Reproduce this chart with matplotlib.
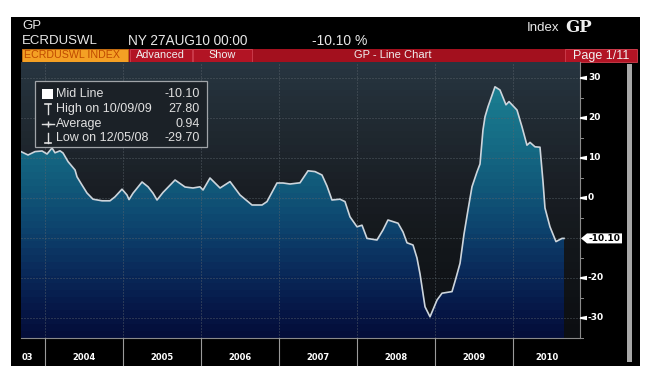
import numpy as np
import matplotlib
matplotlib.use("Agg")
import matplotlib.pyplot as plt
from matplotlib.colors import LinearSegmentedColormap
from matplotlib.patches import Rectangle, Polygon

# ---------------- data (decimal year, % growth) ----------------
dates = [2003.692, 2003.782, 2003.872, 2003.962, 2004.026, 2004.090, 2004.128, 2004.192,
         2004.231, 2004.295, 2004.385, 2004.410, 2004.474, 2004.538, 2004.615, 2004.731,
         2004.833, 2004.897, 2004.987, 2005.051, 2005.077, 2005.128, 2005.244, 2005.321,
         2005.385, 2005.436, 2005.513, 2005.667, 2005.795, 2005.897, 2005.987, 2006.026,
         2006.115, 2006.244, 2006.372, 2006.500, 2006.654, 2006.782, 2006.846, 2006.974,
         2007.051, 2007.141, 2007.269, 2007.372, 2007.462, 2007.551, 2007.615, 2007.679,
         2007.782, 2007.846, 2007.910, 2008.000, 2008.064, 2008.128, 2008.256, 2008.333,
         2008.397, 2008.526, 2008.590, 2008.641, 2008.718, 2008.769, 2008.808, 2008.872,
         2008.936, 2009.026, 2009.090, 2009.218, 2009.269, 2009.321, 2009.372, 2009.423,
         2009.474, 2009.538, 2009.577, 2009.615, 2009.641, 2009.679, 2009.769, 2009.833,
         2009.910, 2009.949, 2010.051, 2010.115, 2010.179, 2010.218, 2010.282, 2010.346,
         2010.385, 2010.410, 2010.474, 2010.551, 2010.628, 2010.654]
values = [11.6, 10.75, 11.6, 11.75, 11.0, 12.5, 11.3, 11.8,
          11.25, 9.1, 7.0, 5.3, 3.25, 1.25, -0.3, -0.7,
          -0.7, 0.3, 2.2, 0.75, -0.4, 1.2, 4.0, 2.8,
          1.2, -0.5, 1.4, 4.5, 2.75, 2.5, 2.8, 2.0,
          5.0, 2.5, 4.1, 0.75, -1.75, -1.75, -0.9, 3.75,
          3.75, 3.5, 3.8, 6.8, 6.6, 5.75, 3.0, -0.5,
          -0.3, -0.9, -4.7, -7.2, -6.8, -10.1, -10.5, -8.0,
          -5.5, -6.3, -8.5, -11.2, -11.75, -15.0, -19.0, -27.2,
          -29.7, -25.5, -23.8, -23.4, -20.0, -16.3, -9.0, -3.0,
          2.8, 6.5, 8.5, 17.0, 20.3, 22.8, 27.8, 27.0,
          23.3, 24.1, 22.0, 17.8, 13.2, 13.9, 12.8, 12.7,
          4.0, -2.5, -7.2, -10.9, -10.1, -10.1]

year_ticks = [2004, 2005, 2006, 2007, 2008, 2009, 2010]
year_labels = ["03", "2004", "2005", "2006", "2007", "2008", "2009", "2010"]
y_ticks = [30, 20, 10, 0, -20, -30]
legend_labels = ["Mid Line", "High on 10/09/09", "Average", "Low on 12/05/08"]
legend_values = ["-10.10", "27.80", "0.94", "-29.70"]
last_value = -10.10

FONT = ["Liberation Sans", "DejaVu Sans"]

W, H = 654, 375
fig = plt.figure(figsize=(W / 100, H / 100), dpi=100)
fig.patch.set_facecolor("white")

# chrome axes in pixel coordinates
bg = fig.add_axes([0, 0, 1, 1])
bg.set_xlim(0, W)
bg.set_ylim(H, 0)
bg.axis("off")

bg.add_patch(Rectangle((11, 17), 629, 349, facecolor="black", edgecolor="none"))

txt = dict(color="#e8e8e8", family=FONT, va="center")
bg.text(22, 26, "GP", fontsize=9.5, **txt)
bg.text(22, 41, "ECRDUSWL", fontsize=9.5, **txt)
bg.text(128, 41, "NY 27AUG10 00:00", fontsize=9.8, **txt)
bg.text(312, 41, "-10.10 %", fontsize=10, **txt)
bg.text(527, 28, "Index", fontsize=9.5, **txt)
bg.text(565, 28, "GP", fontsize=12, fontweight="bold", family=["DejaVu Serif"],
        color="#f0f0f0", va="center")

# red toolbar
bg.add_patch(Rectangle((22, 49), 615, 13, facecolor="#a3101e", edgecolor="none"))
bg.add_patch(Rectangle((22, 49), 106, 13, facecolor="#f4a024", edgecolor="#c07010", lw=0.6))
bg.text(24, 55.5, "ECRDUSWL INDEX", fontsize=7.7, color="#c04a00", family=FONT, va="center")
bg.add_patch(Rectangle((130, 49), 62, 13, facecolor="#b21424", edgecolor="#d04050", lw=0.6))
bg.text(160, 55.5, "Advanced", fontsize=7.8, color="#f0f0f0", family=FONT, va="center", ha="center")
bg.add_patch(Rectangle((193, 49), 59, 13, facecolor="#b21424", edgecolor="#d04050", lw=0.6))
bg.text(222, 55.5, "Show", fontsize=7.8, color="#f0f0f0", family=FONT, va="center", ha="center")
bg.text(393, 55.5, "GP - Line Chart", fontsize=8, color="#f0f0f0", family=FONT, va="center", ha="center")
bg.add_patch(Rectangle((565, 49), 72, 13, facecolor="#b21424", edgecolor="#d04050", lw=0.6))
bg.text(601, 55.5, "Page 1/11", fontsize=9, color="#f0f0f0", family=FONT, va="center", ha="center")

# scrollbar
bg.add_patch(Rectangle((627, 64), 5, 298, facecolor="#a8a8a8", edgecolor="none"))

# ---------------- main plot ----------------
L, R, T, B = 21, 580, 62, 338
ax = fig.add_axes([L / W, 1 - B / H, (R - L) / W, (B - T) / H])
x0, x1 = 2003.692, 2004 + (R - 45) / 78.0
y0, y1 = -35, 34
ax.set_xlim(x0, x1)
ax.set_ylim(y0, y1)
ax.axis("off")

nb = 40
yy = np.linspace(y1, y0, nb).reshape(-1, 1)
bg_cmap = LinearSegmentedColormap.from_list(
    "bgc", [(0, "#0c0e12"), (0.35, "#14181c"), (0.55, "#1a1f25"), (0.8, "#212b33"), (1, "#273540")])
ax.imshow((yy - y0) / (y1 - y0), cmap=bg_cmap, vmin=0, vmax=1, extent=[x0, x1, y0, y1],
          aspect="auto", interpolation="nearest", zorder=0)

fill_cmap = LinearSegmentedColormap.from_list(
    "fc", [(0, "#040e3a"), (0.10, "#061848"), (0.25, "#0a2c5c"), (0.40, "#0d446e"),
           (0.55, "#11597a"), (0.70, "#156a84"), (0.85, "#19788d"), (1, "#1e8898")])
im = ax.imshow((yy - y0) / (y1 - y0), cmap=fill_cmap, vmin=0, vmax=1, extent=[x0, x1, y0, y1],
               aspect="auto", interpolation="nearest", zorder=1)
poly = Polygon(list(zip([dates[0]] + dates + [dates[-1]], [y0] + values + [y0])),
               closed=True, transform=ax.transData, facecolor="none", edgecolor="none")
ax.add_patch(poly)
im.set_clip_path(poly)

# grid
for v in range(-30, 31, 10):
    ax.axhline(v, color="#5c656c", lw=0.6, ls=(0, (1.2, 2.4)), zorder=2)
for yt in year_ticks:
    ax.axvline(yt, color="#5c656c", lw=0.6, ls=(0, (1.2, 2.4)), zorder=2)

ax.plot(dates, values, color="#cdd5dc", lw=1.2, zorder=3, solid_joinstyle="round")

# ---------------- overlay (pixel coords) ----------------
ov = fig.add_axes([0, 0, 1, 1])
ov.set_xlim(0, W)
ov.set_ylim(H, 0)
ov.axis("off")
ov.patch.set_alpha(0)


def ypix(v):
    return B - (v - y0) / (y1 - y0) * (B - T)


def xpix(t):
    return L + (t - x0) / (x1 - x0) * (R - L)


ov.plot([R, R], [T, B], color="#8a8a8a", lw=0.8, zorder=5)
ov.plot([L, R], [B, B], color="#8a8a8a", lw=0.8, zorder=5)
for v in range(-35, 35, 5):
    if v % 10:
        ov.plot([R, R + 3], [ypix(v), ypix(v)], color="#8a8a8a", lw=0.7, zorder=5)
for v in y_ticks:
    ov.add_patch(Polygon([(R, ypix(v) - 0.8), (R + 7, ypix(v) - 2.2), (R + 7, ypix(v) + 2.2),
                          (R, ypix(v) + 0.8)], closed=True, facecolor="white", edgecolor="none",
                         zorder=6))
    ov.text(R + 8, ypix(v), f"{v}", fontsize=6.5, fontweight="bold", color="white",
            family="DejaVu Sans", va="center", ha="left", zorder=6)

# last value tag
yl = ypix(last_value)
ov.add_patch(Polygon([(R + 1, yl), (R + 7, yl - 5), (R + 42, yl - 5), (R + 42, yl + 5),
                      (R + 7, yl + 5)], closed=True, facecolor="white", edgecolor="none", zorder=6))
ov.text(R + 24, yl + 0.5, f"{last_value:.2f}", fontsize=6.5, fontweight="bold", color="black",
        family="DejaVu Sans", va="center", ha="center", zorder=7)

# x axis strip
edges = [x0] + year_ticks + [x1]
for yt in year_ticks:
    ov.plot([xpix(yt), xpix(yt)], [B, 365], color="#9a9a9a", lw=0.8, zorder=5)
for i, lab in enumerate(year_labels):
    a, b = edges[i], min(edges[i + 1], edges[i] + 1)
    xc = (xpix(a) + xpix(b)) / 2 if i > 0 else xpix(a) + 6
    ov.text(xc, 358, lab, fontsize=6, fontweight="bold", color="white",
            family="DejaVu Sans", va="center", ha="center", zorder=6)

# legend box
ov.add_patch(Rectangle((35, 81), 172, 66, facecolor="#1b2127", edgecolor="#a0a4a8", lw=0.9, zorder=8))
rows = [94, 109, 124, 138]
for r, lab, val in zip(rows, legend_labels, legend_values):
    ov.text(56, r, lab, fontsize=9, color="#e0e0e0", family=FONT, va="center", zorder=9)
    ov.text(200, r, val, fontsize=9, color="#e0e0e0", family=FONT, va="center", ha="right", zorder=9)
ov.add_patch(Rectangle((42, 89), 11, 10, facecolor="white", edgecolor="none", zorder=9))
ov.plot([48, 48], [104, 114], color="#e0e0e0", lw=1, zorder=9)
ov.plot([45, 51], [104, 104], color="#e0e0e0", lw=1.2, zorder=9)
ov.plot([42, 54], [124, 124], color="#e0e0e0", lw=1, zorder=9)
ov.plot([48], [124], marker="+", color="#e0e0e0", ms=5, zorder=9)
ov.plot([48, 48], [133, 143], color="#e0e0e0", lw=1, zorder=9)
ov.plot([45, 51], [143, 143], color="#e0e0e0", lw=1.2, zorder=9)

fig.savefig("out.png", dpi=100, facecolor=fig.get_facecolor())
